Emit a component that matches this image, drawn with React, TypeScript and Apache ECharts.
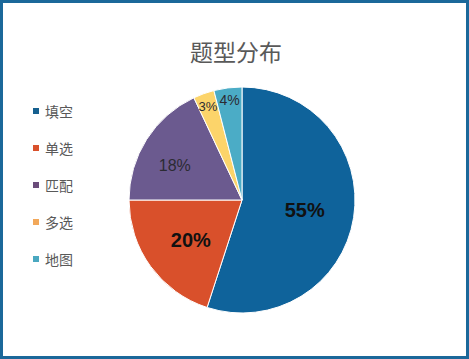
import React, { useEffect, useRef } from "react";
import * as echarts from "echarts";

const titleText = "题型分布";
const categories = ["填空", "单选", "匹配", "多选", "地图"];
const values = [55, 20, 18, 3, 4];
const sliceColors = ["#0f639b", "#d9502b", "#6b5a8f", "#fcd46a", "#4bacc6"];
const legendColors = ["#16608f", "#d9512c", "#6b4c7a", "#f2a85a", "#4aa8c0"];
const labelSizes = [20, 20, 16, 13, 14];
const labelBold = [true, true, false, false, false];
const labelOffsets: [number, number][] = [[4, 1], [-3, 5], [-17, -3], [-14, -38], [-5, -41]];

export default function App() {
  const ref = useRef<HTMLDivElement>(null);
  useEffect(() => {
    document.body.style.margin = "0";
    if (!ref.current) return;
    const chart = echarts.init(ref.current, undefined, { renderer: "svg" });
    const cjk = "'Noto Sans CJK SC', 'Noto Sans', sans-serif";
    chart.setOption({
      animation: false,
      backgroundColor: "#ffffff",
      title: {
        text: titleText,
        left: 236,
        top: 39,
        textAlign: "center",
        padding: 0,
        textStyle: { fontSize: 23, fontWeight: "normal", color: "#595959", fontFamily: cjk },
      },
      legend: {
        orient: "vertical",
        left: 31,
        top: 104,
        padding: 0,
        itemWidth: 8,
        itemHeight: 8,
        itemGap: 23,
        icon: "rect",
        textStyle: { fontSize: 14, color: "#595959", fontFamily: cjk },
        data: categories.map((c, i) => ({ name: c, itemStyle: { color: legendColors[i] } })),
      },
      graphic: [
        {
          type: "rect",
          shape: { x: 1.5, y: 1.5, width: 466, height: 356 },
          style: { fill: "none", stroke: "#1b689a", lineWidth: 3 },
          silent: true,
        },
      ],
      series: [
        {
          type: "pie",
          center: [242, 200],
          radius: [0, 113],
          startAngle: 90,
          clockwise: true,
          avoidLabelOverlap: false,
          itemStyle: { borderColor: "#ffffff", borderWidth: 1 },
          labelLine: { show: false },
          emphasis: { disabled: true },
          data: categories.map((c, i) => ({
            name: c,
            value: values[i],
            itemStyle: { color: sliceColors[i] },
            label: {
              show: true,
              position: "inside",
              formatter: "{c}%",
              offset: labelOffsets[i],
              fontSize: labelSizes[i],
              fontWeight: labelBold[i] ? "bold" : "normal",
              color: labelBold[i] ? "#111111" : "#2b2b33",
              fontFamily: "'Liberation Sans', Arial, sans-serif",
            },
          })),
        },
      ],
    });
    return () => chart.dispose();
  }, []);
  return <div ref={ref} style={{ width: 469, height: 359 }} />;
}
